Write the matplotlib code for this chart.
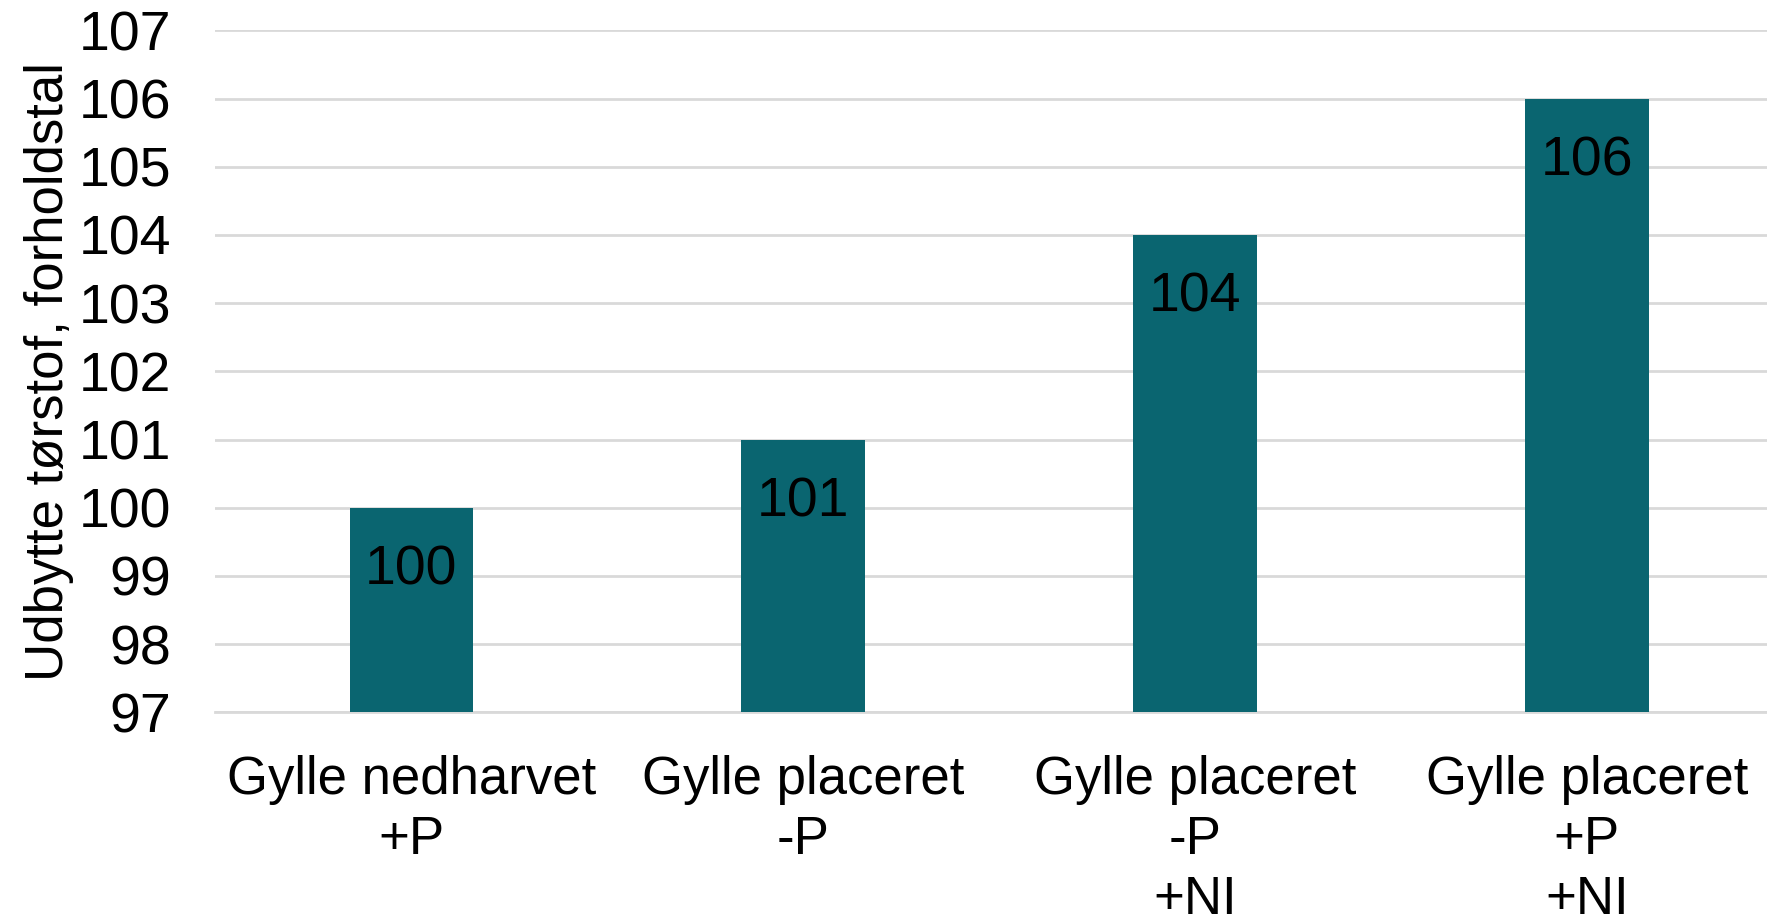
import matplotlib.pyplot as plt

categories = ["Gylle nedharvet\n+P", "Gylle placeret\n-P", "Gylle placeret\n-P\n+NI", "Gylle placeret\n+P\n+NI"]
values = [100, 101, 104, 106]
yticks = [97, 98, 99, 100, 101, 102, 103, 104, 105, 106, 107]

plt.rcParams["font.family"] = ["Liberation Sans", "DejaVu Sans"]

fig = plt.figure(figsize=(17.67, 9.22), dpi=100)
ax = fig.add_axes([0.1219, 0.2275, 0.887, 0.7395])

x = range(len(categories))
ax.bar(x, values, width=0.315, color="#0A6570", zorder=3)
for i, v in zip(x, values):
    ax.annotate(str(v), (i, v), xytext=(0, -45), textcoords="offset points",
                ha="center", va="center", fontsize=40, color="black", zorder=4)

ax.set_ylim(97, 107)
ax.set_xlim(-0.5, 3.5)
ax.set_yticks(yticks)
ax.set_xticks(list(x))
ax.set_xticklabels(categories, fontsize=38, linespacing=1.25, va="top")
ax.tick_params(axis="y", labelsize=40, length=0, pad=32)
ax.tick_params(axis="x", length=0, pad=31)
ax.grid(axis="y", color="#D9D9D9", linewidth=2, zorder=0)
for s in ["top", "right", "left"]:
    ax.spines[s].set_visible(False)
ax.spines["bottom"].set_color("#D9D9D9")
ax.spines["bottom"].set_linewidth(2)
ax.set_ylabel("Udbytte tørstof, forholdstal", fontsize=38, labelpad=3)

fig.savefig("out.png", dpi=100)
